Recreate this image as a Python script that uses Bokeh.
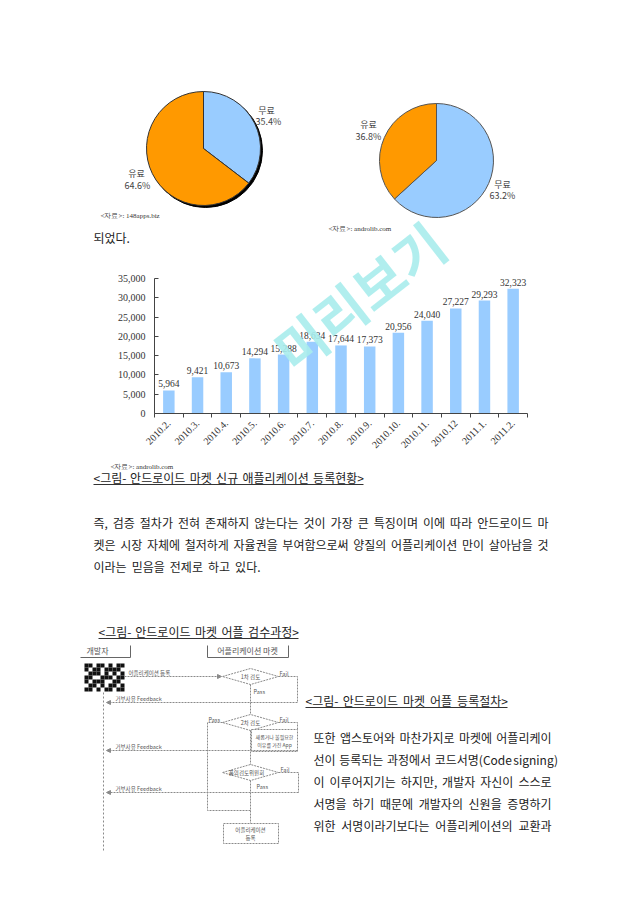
import numpy as np
from bokeh.plotting import figure
from bokeh.models import (Range1d, FixedTicker, NumeralTickFormatter, LinearAxis, Arrow,
                          NormalHead, ColumnDataSource)
from bokeh.core.properties import value
from bokeh.embed import file_html
from bokeh.resources import INLINE

# ---------------- data ----------------
pie1_labels = ["무료", "유료"]
pie1_values = [35.4, 64.6]
pie1_source = "<자료>: 148apps.biz"
pie2_labels = ["무료", "유료"]
pie2_values = [63.2, 36.8]
pie2_source = "<자료>: androlib.com"
pie_colors = ["#99CCFF", "#FF9900"]

months = ["2010.2.", "2010.3.", "2010.4.", "2010.5.", "2010.6.", "2010.7.", "2010.8.",
          "2010.9.", "2010.10.", "2010.11.", "2010.12", "2011.1.", "2011.2."]
new_apps = [5964, 9421, 10673, 14294, 15288, 18634, 17644, 17373, 20956, 24040, 27227,
            29293, 32323]
y_ticks = [0, 5000, 10000, 15000, 20000, 25000, 30000, 35000]
bar_source = "<자료>: androlib.com"

intro_tail = "되었다."
caption1 = "<그림- 안드로이드 마켓 신규 애플리케이션 등록현황>"
paragraph = [
    "즉, 검증 절차가 전혀 존재하지 않는다는 것이 가장 큰 특징이며 이에 따라 안드로이드 마",
    "켓은 시장 자체에 철저하게 자율권을 부여함으로써 양질의 어플리케이션 만이 살아남을 것",
    "이라는 믿음을 전제로 하고 있다.",
]
caption2 = "<그림- 안드로이드 마켓 어플 검수과정>"
caption3 = "<그림- 안드로이드 마켓 어플 등록절차>"
right_text = [
    "또한 앱스토어와 마찬가지로 마켓에 어플리케이",
    "선이 등록되는 과정에서 코드서명(Code signing)",
    "이 이루어지기는 하지만, 개발자 자신이 스스로",
    "서명을 하기 때문에 개발자의 신원을 증명하기",
    "위한 서명이라기보다는 어플리케이션의 교환과",
]
flow_headers = ["개발자", "어플리케이션 마켓"]
flow_steps = ["1차 검토", "2차 검토", "품의검토위원회"]
flow_reject = "거부사유 Feedback"
flow_register = "어플리케이션 등록"
flow_box = ["새롭거나 불필요한", "이유를 가진 App"]
flow_final = ["어플리케이션", "등록"]
watermark = "미리보기"

KR = value("Noto Sans CJK KR")
SERIF = value("Liberation Serif")
PW, PH = 640, 905
TXT = "#222222"

# one page-sized figure; default ranges are page pixels (y negated)
p = figure(width=PW, height=PH, x_range=Range1d(0, PW), y_range=Range1d(-PH, 0),
           x_axis_location=None, y_axis_location=None, output_backend="svg",
           toolbar_location=None, min_border=0)
p.grid.visible = False
p.outline_line_color = None
p.background_fill_color = "white"
p.border_fill_color = "white"


def est_w(s, fs):
    w = 0.0
    for ch in s:
        o = ord(ch)
        if 0xAC00 <= o <= 0xD7A3 or 0x3130 <= o <= 0x318F:
            w += 0.92
        elif ch in ",.:;":
            w += 0.26
        elif ch in "()":
            w += 0.33
        elif ch in "<>":
            w += 0.52
        elif ch == "-":
            w += 0.33
        elif ch in "ijl":
            w += 0.23
        elif ch in "frt":
            w += 0.35
        elif ch in "mw":
            w += 0.83
        elif ch.isupper():
            w += 0.62
        else:
            w += 0.54
    return w * fs


def words_line(text, x0, y, fs, width=None, color=TXT, gap_em=0.42):
    words = text.split(" ")
    ws = [est_w(w, fs) for w in words]
    if width is not None and len(words) > 1:
        gap = max((width - sum(ws)) / (len(words) - 1), 0.3 * fs)
    else:
        gap = gap_em * fs
    xs, x = [], x0
    for w in ws:
        xs.append(x)
        x += w + gap
    p.text(x=xs, y=[-y] * len(words), text=words, text_font=KR, text_font_size=f"{fs}px",
           text_color=color, text_baseline="middle", text_align="left")


def draw_pie(cx, cy, r, vals, colors, edge, shadow):
    total = float(sum(vals))
    starts, ends, cum = [], [], 0.0
    for v in vals:
        ends.append(np.pi / 2 - 2 * np.pi * cum / total)
        cum += v
        starts.append(np.pi / 2 - 2 * np.pi * cum / total)
    if shadow:
        p.circle(x=[cx + 2], y=[-(cy + 2)], radius=r, fill_color="black", line_color="black")
    src = ColumnDataSource(dict(x=[cx] * len(vals), y=[-cy] * len(vals), s=starts, e=ends,
                                c=colors))
    p.wedge(x="x", y="y", radius=r, start_angle="s", end_angle="e", fill_color="c",
            line_color=edge, line_width=1, source=src)


# ---------------- pies ----------------
draw_pie(203, 148, 57, pie1_values, pie_colors, "#333333", True)
draw_pie(436, 160, 57, pie2_values, pie_colors, "#555555", False)

lab_kw = dict(text_font=KR, text_font_size="9px", text_color="#444444", text_align="center",
              text_baseline="middle")
p.text(x=[266, 136], y=[-110, -173], text=pie1_labels, **lab_kw)
p.text(x=[268, 137], y=[-121, -185], text=[f"{v}%" for v in pie1_values], **lab_kw)
p.text(x=[502, 368], y=[-184, -124], text=pie2_labels, **lab_kw)
p.text(x=[502, 368], y=[-195, -136], text=[f"{v}%" for v in pie2_values], **lab_kw)
src_kw = dict(text_font=SERIF, text_font_size="7px", text_color="#333333", text_align="left",
              text_baseline="middle")
p.text(x=[100, 328, 110], y=[-215, -228, -466], text=[pie1_source, pie2_source, bar_source],
       **src_kw)
words_line(intro_tail, 93, 237, 12)

# ---------------- bar chart (own scales, axes at fixed locations) ----------------
n = len(months)
xs_bar = list(range(n))
FR_L, FR_R, PX_ZERO, PX_MAX = 154, 527, 413, 278
bx_per = (FR_R - FR_L) / n
bx_start = -0.5 - FR_L / bx_per
by_per = (PX_ZERO - PX_MAX) / y_ticks[-1]
p.extra_x_ranges = {"bx": Range1d(bx_start, bx_start + PW / bx_per)}
p.extra_y_ranges = {"by": Range1d((PX_ZERO - PH) / by_per, PX_ZERO / by_per)}

xa = LinearAxis(x_range_name="bx", y_range_name="by", fixed_location=0,
                bounds=(-0.5, n - 0.5),
                ticker=FixedTicker(ticks=xs_bar, minor_ticks=[i - 0.5 for i in range(n + 1)]))
xa.major_label_overrides = {i: m for i, m in enumerate(months)}
xa.major_label_orientation = np.pi / 4
xa.major_tick_line_color = None
xa.major_tick_out = 0
xa.major_tick_in = 0
xa.minor_tick_line_color = "#444444"
xa.minor_tick_in = 0
xa.minor_tick_out = 4
xa.axis_line_color = "#444444"
xa.major_label_text_font = "Liberation Serif"
xa.major_label_text_font_size = "10px"
xa.major_label_text_color = "#333333"
xa.major_label_standoff = 4
p.add_layout(xa, "below")

ya = LinearAxis(x_range_name="bx", y_range_name="by", fixed_location=-0.5,
                bounds=(y_ticks[0], y_ticks[-1]), ticker=FixedTicker(ticks=y_ticks),
                formatter=NumeralTickFormatter(format="0,0"))
ya.major_tick_in = 4
ya.major_tick_out = 0
ya.minor_tick_line_color = None
ya.axis_line_color = "#444444"
ya.major_tick_line_color = "#444444"
ya.major_label_text_font = "Liberation Serif"
ya.major_label_text_font_size = "10px"
ya.major_label_text_color = "#333333"
ya.major_label_standoff = 9
p.add_layout(ya, "left")

p.vbar(x=xs_bar, top=new_apps, width=0.4, fill_color="#99CCFF", line_color=None,
       x_range_name="bx", y_range_name="by")
p.text(x=xs_bar, y=new_apps, text=[f"{v:,}" for v in new_apps], y_offset=-3,
       text_align="center", text_baseline="bottom", text_font=SERIF, text_font_size="9.5px",
       text_color="#333333", x_range_name="bx", y_range_name="by")

# ---------------- body text ----------------


def caption(text, x0, x1, y):
    words_line(text, x0, y, 12, width=x1 - x0)
    p.segment(x0=[x0], y0=[-(y + 7)], x1=[x1], y1=[-(y + 7)], line_color="#333333",
              line_width=1)


caption(caption1, 93, 363, 477)
para_y = [522, 544, 566]
for i, line in enumerate(paragraph):
    words_line(line, 93, para_y[i], 12, width=(548 - 93) if i < 2 else None)

caption(caption2, 98, 298, 631)
caption(caption3, 305, 507, 700)

right_y = [737, 759, 781, 803, 825]
for i, line in enumerate(right_text):
    words_line(line, 313, right_y[i], 12, width=551 - 313)

# ---------------- flow chart ----------------
LC = "#8a8a8a"
FT = "#555555"
fkw = dict(text_font=KR, text_color=FT, text_baseline="middle")
p.multi_line(xs=[[80, 130, 130], [207, 207, 288, 288]],
             ys=[[-657, -657, -645], [-645, -657, -657, -645]], line_color="#666666",
             line_width=1)
p.text(x=[97, 247], y=[-650, -650], text=flow_headers, text_font_size="8px",
       text_align="center", **fkw)

qr = ["1101101011", "1011011110", "0111010101", "1100111011", "1011100110",
      "0110101101", "1101011011"]
qx, qy = [], []
for r, row in enumerate(qr):
    for c, ch in enumerate(row):
        if ch == "1":
            qx.append(84 + c * 4 + 2)
            qy.append(-(663 + r * 4 + 2))
p.rect(x=qx, y=qy, width=4, height=4, fill_color="#111111", line_color=None)

p.segment(x0=[103], y0=[-692], x1=[103], y1=[-850], line_color=LC, line_dash="2 2")

dcx = 250
dys = [676, 722, 772]
hw, hh = 28, 8
p.patches(xs=[[dcx - hw, dcx, dcx + hw, dcx] for _ in dys],
          ys=[[-d, -(d - hh), -d, -(d + hh)] for d in dys], fill_color="white",
          line_color=LC, line_dash="2 1")
p.text(x=[dcx, dcx, dcx - 4], y=[-d for d in dys], text=flow_steps, text_font_size="5.5px",
       text_align="center", **fkw)

path_x = [[278, 297, 297], [278, 297, 297], [278, 298, 298],
          [222, 207, 207, 250],
          [250, 250], [250, 250], [250, 250]]
path_y = [[676, 676, 702], [722, 722, 729], [772, 772, 792],
          [722, 722, 810, 810],
          [684, 714], [730, 764], [780, 823]]
p.multi_line(xs=path_x, ys=[[-v for v in q] for q in path_y], line_color=LC,
             line_dash="2 1", line_width=1)

p.quad(left=[251], right=[297], top=[-729], bottom=[-751], fill_color="white",
       line_color=LC, line_dash="2 1")
p.text(x=[274, 274], y=[-736, -744], text=flow_box, text_font_size="5px",
       text_align="center", **fkw)
p.quad(left=[223], right=[278], top=[-823], bottom=[-843], fill_color="white",
       line_color=LC, line_dash="2 1")
p.text(x=[250, 250], y=[-829, -837], text=flow_final, text_font_size="5.5px",
       text_align="center", **fkw)

head = dict(size=4, fill_color=LC, line_color=LC)
for (xs0, ys0, xs1, ys1) in [(124, 676, 221, 676), (297, 702, 106, 702),
                             (297, 750, 106, 750), (298, 792, 106, 792)]:
    p.add_layout(Arrow(end=NormalHead(**head), x_start=xs0, y_start=-ys0, x_end=xs1,
                       y_end=-ys1, line_color=LC, line_width=1, line_dash="2 1"))

p.text(x=[128], y=[-672], text=[flow_register], text_font_size="5.5px", text_align="left",
       **fkw)
p.text(x=[115, 115, 115], y=[-698, -746, -788], text=[flow_reject] * 3,
       text_font_size="5.5px", text_align="left", **fkw)
p.text(x=[279, 279, 280], y=[-673, -719, -769], text=["Fail"] * 3, text_font_size="5.5px",
       text_align="left", **fkw)
p.text(x=[253, 208, 256], y=[-691, -719, -786], text=["Pass"] * 3, text_font_size="5.5px",
       text_align="left", **fkw)

# ---------------- watermark ----------------
p.text(x=[358], y=[-295], text=[watermark], angle=np.deg2rad(38), text_align="center",
       text_baseline="middle", text_font=KR, text_font_size="54px", text_font_style="bold",
       text_color="#A9ECEC", text_alpha=0.9)

open("out.html", "w").write(file_html(p, INLINE))
